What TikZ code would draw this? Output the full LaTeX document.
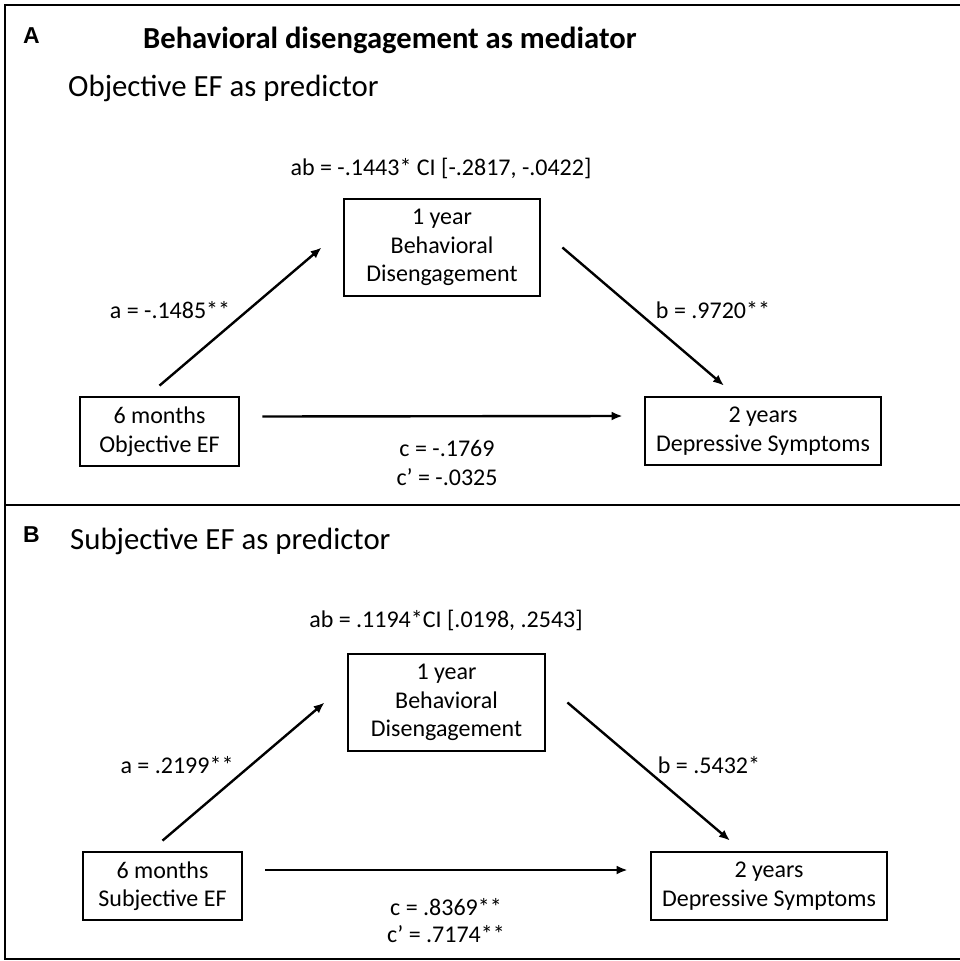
\documentclass[tikz,border=0pt]{standalone}
\usepackage{fontspec}
\setmainfont{Carlito}
\newfontfamily\arialb{Liberation Sans}
\usetikzlibrary{arrows.meta}
\newcommand\boxfont{\fontsize{24}{28.5}\selectfont}
\tikzset{
  box/.style={draw, line width=2.8pt, align=center, inner sep=0pt, font=\boxfont},
  lab/.style={font=\boxfont, inner sep=0pt},
  arr/.style={-{Latex[length=11pt,width=9pt]}, line width=2.4pt},
  panel/.style={anchor=base west, font=\arialb\bfseries\fontsize{23}{27}\selectfont, inner sep=0pt},
  head/.style={anchor=base west, font=\fontsize{30.8}{36}\selectfont, inner sep=0pt},
}
\begin{document}
\begin{tikzpicture}[x=1pt,y=-1pt]
\useasboundingbox (0,0) rectangle (960,961);
\draw[line width=2pt] (5,5) rectangle (963,959);
\draw[line width=2pt] (5,505) -- (963,505);

% ---------- Panel A ----------
\node[panel] (lA) at (23,43) {A};
\node[anchor=base west, inner sep=0pt, font=\bfseries\fontsize{30.6}{36}\selectfont] (tA) at (143,48) {Behavioral disengagement as mediator};
\node[head] (hA) at (68,96) {Objective EF as predictor};

\node[box, minimum width=159pt, minimum height=69pt] (sixA) at (159.5,431.5) {6 months\\Objective EF};
\node[box, minimum width=196pt, minimum height=97pt] (oneA) at (442,247.5) {1 year\\Behavioral\\Disengagement};
\node[box, minimum width=236pt, minimum height=68pt] (twoA) at (763,431) {2 years\\Depressive Symptoms};

\draw[arr] ([yshift=10pt]sixA.north) -- ([xshift=-21pt]oneA.west);
\draw[arr] ([xshift=21pt]oneA.east) -- ([shift={(-39pt,10pt)}]twoA.north);
\draw[arr] ([shift={(22pt,15pt)}]sixA.east) -- ([shift={(-21pt,15pt)}]twoA.west);

\node[lab] (abA) at (441,168) {ab = -.1443* CI [-.2817, -.0422]};
\node[lab] (aA) at (170,310) {a = -.1485**};
\node[lab] (bA) at (713,310) {b = .9720**};
\node[lab] (cA) at (447,448) {c = -.1769};
\node[lab] (cpA) at (447,477) {c\textquoteright{} = -.0325};

% ---------- Panel B ----------
\node[panel] (lB) at (23,542) {B};
\node[head] (hB) at (70,549) {Subjective EF as predictor};

\node[box, minimum width=159pt, minimum height=68pt] (sixB) at (162.5,886) {6 months\\Subjective EF};
\node[box, minimum width=197pt, minimum height=97pt] (oneB) at (446.5,702.5) {1 year\\Behavioral\\Disengagement};
\node[box, minimum width=236pt, minimum height=68pt] (twoB) at (769,886) {2 years\\Depressive Symptoms};

\draw[arr] ([yshift=10pt]sixB.north) -- ([xshift=-22pt]oneB.west);
\draw[arr] ([xshift=21pt]oneB.east) -- ([shift={(-39pt,10pt)}]twoB.north);
\draw[arr] ([shift={(22pt,16pt)}]sixB.east) -- ([shift={(-22pt,16pt)}]twoB.west);

\node[lab] (abB) at (446,620) {ab = .1194*CI [.0198, .2543]};
\node[lab] (aB) at (177,765) {a = .2199**};
\node[lab] (bB) at (709,765) {b = .5432*};
\node[lab] (cB) at (446,907) {c = .8369**};
\node[lab] (cpB) at (446,934) {c\textquoteright{} = .7174**};
\end{tikzpicture}
\end{document}
